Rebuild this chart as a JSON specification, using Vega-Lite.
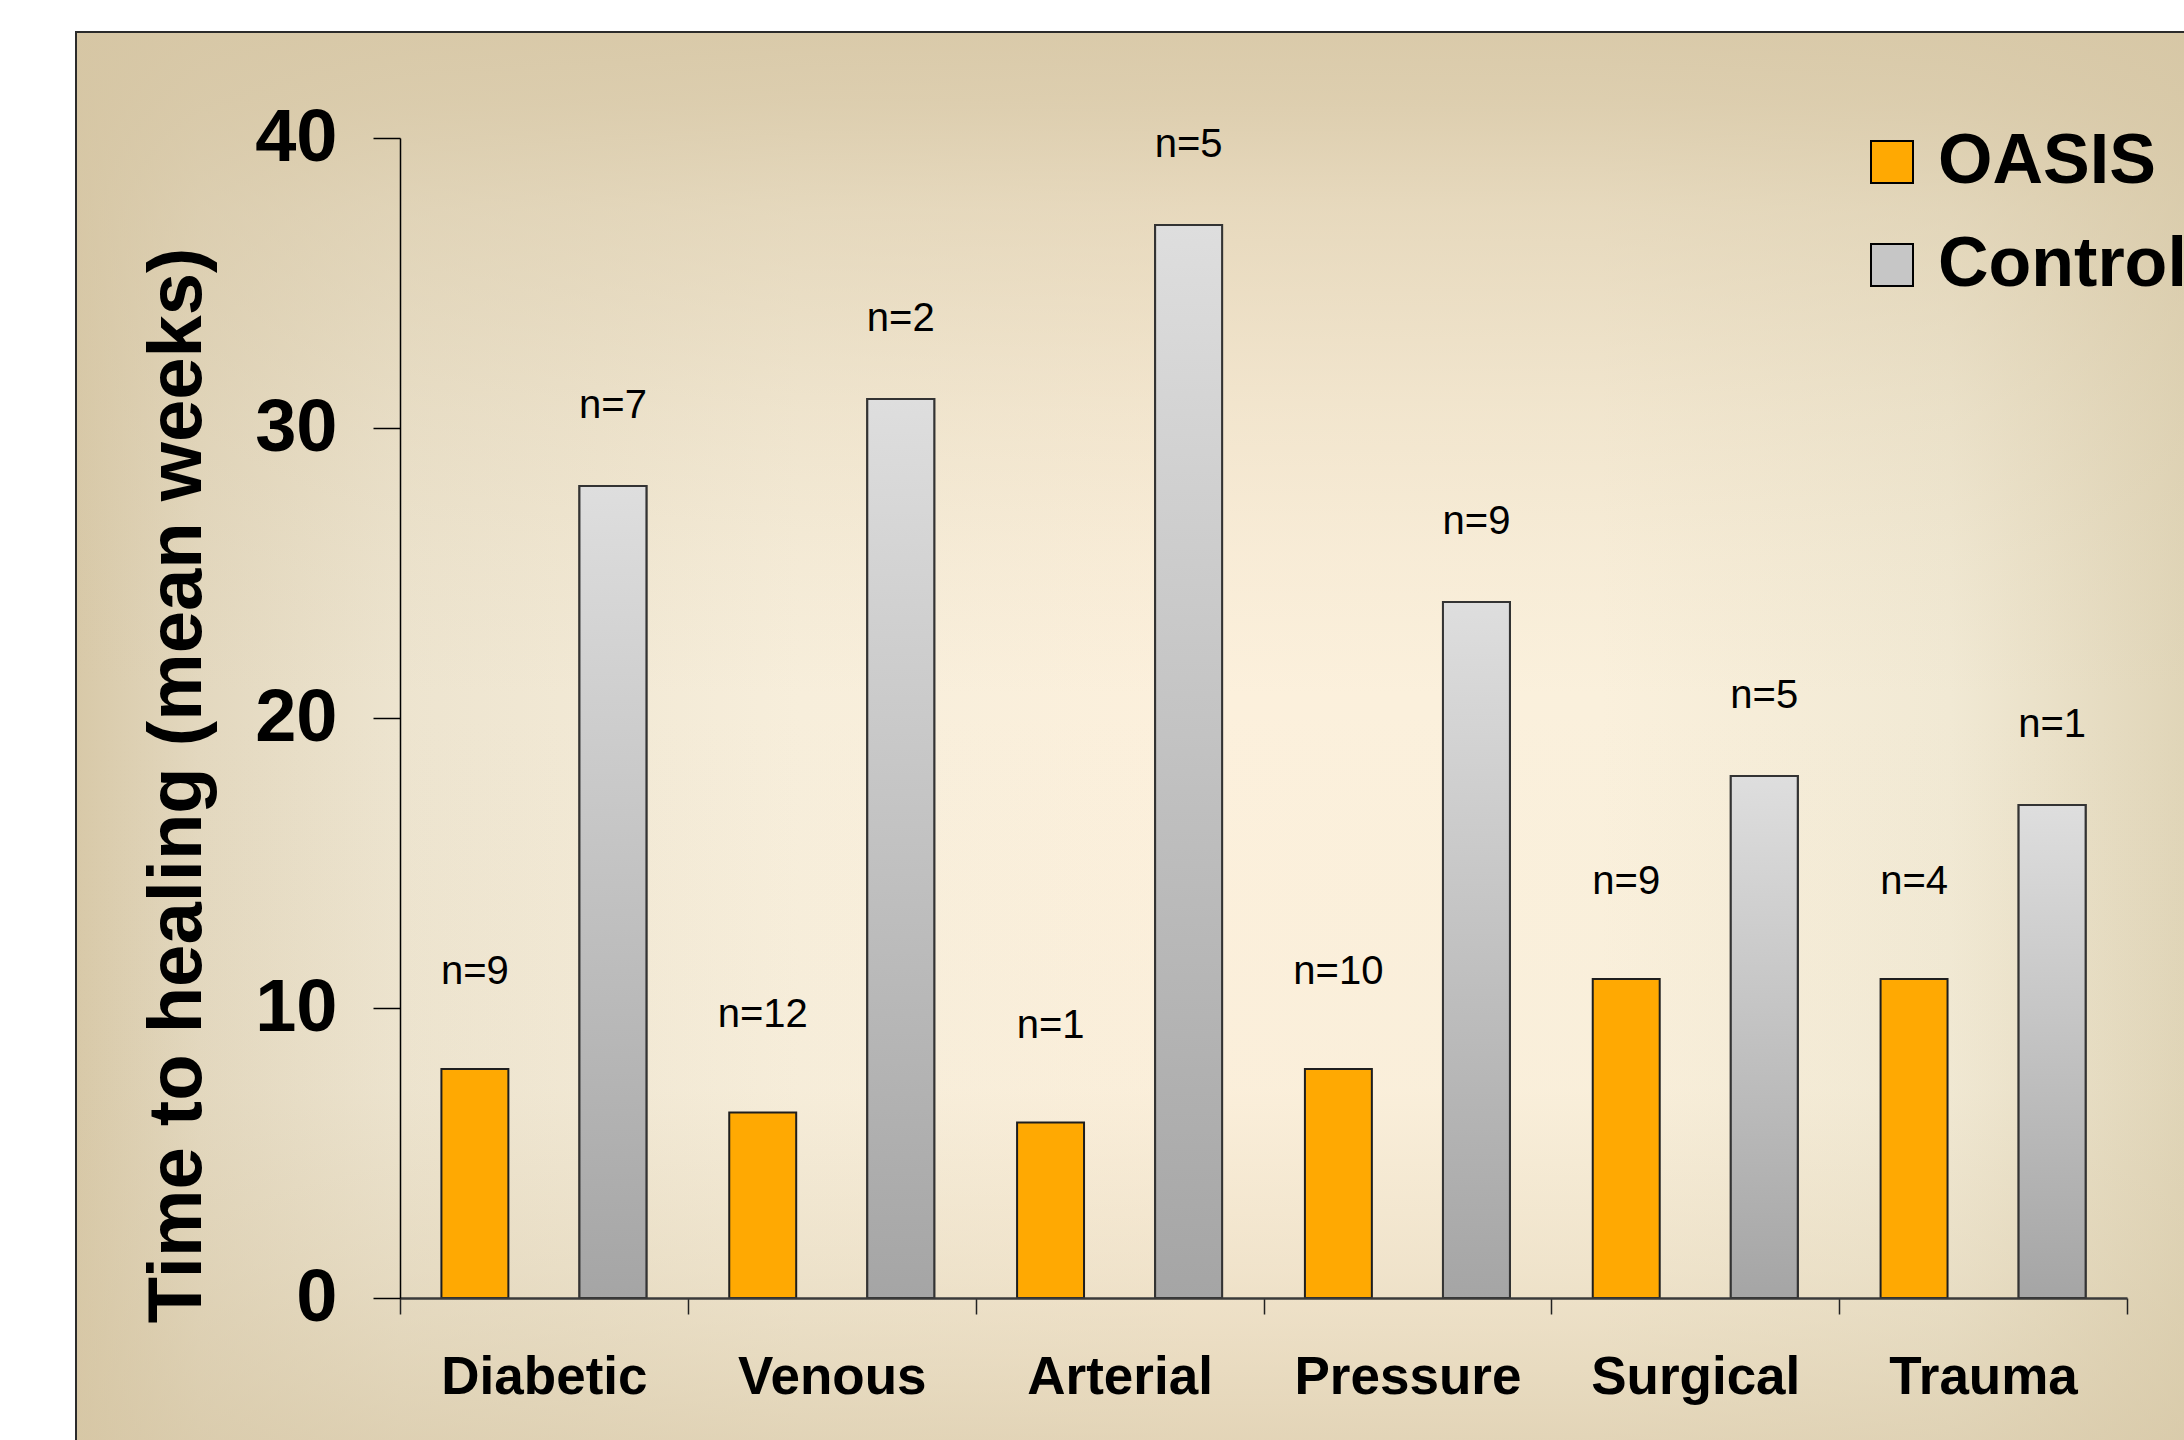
{
  "$schema": "https://vega.github.io/schema/vega-lite/v6.json",
  "autosize": {"type": "none"},
  "padding": {"left": 77, "top": 33, "right": 0, "bottom": 0},
  "width": 2107,
  "height": 1407,
  "background": "white",
  "config": {
    "font": "Liberation Sans",
    "view": {"stroke": "#2b2b2b", "strokeWidth": 4, "fill": null}
  },
  "datasets": {
    "healing": [
      {"category": "Diabetic", "group": "OASIS", "value": 7.9, "label": "n=9"},
      {"category": "Diabetic", "group": "Control", "value": 28, "label": "n=7"},
      {"category": "Venous", "group": "OASIS", "value": 6.4, "label": "n=12"},
      {"category": "Venous", "group": "Control", "value": 31, "label": "n=2"},
      {"category": "Arterial", "group": "OASIS", "value": 6.05, "label": "n=1"},
      {"category": "Arterial", "group": "Control", "value": 37, "label": "n=5"},
      {"category": "Pressure", "group": "OASIS", "value": 7.9, "label": "n=10"},
      {"category": "Pressure", "group": "Control", "value": 24, "label": "n=9"},
      {"category": "Surgical", "group": "OASIS", "value": 11, "label": "n=9"},
      {"category": "Surgical", "group": "Control", "value": 18, "label": "n=5"},
      {"category": "Trauma", "group": "OASIS", "value": 11, "label": "n=4"},
      {"category": "Trauma", "group": "Control", "value": 17, "label": "n=1"}
    ],
    "backdrop": [{}]
  },
  "layer": [
    {
      "data": {"name": "backdrop"},
      "mark": {
        "type": "rect",
        "color": {
          "gradient": "linear", "x1": 0, "y1": 0, "x2": 1, "y2": 0,
          "stops": [
            {"offset": 0, "color": "#d8c9a8"},
            {"offset": 0.058, "color": "#e3d8bf"},
            {"offset": 0.153, "color": "#ede4cf"},
            {"offset": 0.343, "color": "#f7eedb"},
            {"offset": 0.533, "color": "#fcf0dc"},
            {"offset": 0.723, "color": "#faf0dc"},
            {"offset": 0.889, "color": "#f1e9d4"},
            {"offset": 1, "color": "#e0d5b8"}
          ]
        }
      },
      "encoding": {}
    },
    {
      "data": {"name": "backdrop"},
      "mark": {
        "type": "rect",
        "color": {
          "gradient": "linear", "x1": 0, "y1": 0, "x2": 0, "y2": 1,
          "stops": [
            {"offset": 0, "color": "rgba(214,198,164,0.9)"},
            {"offset": 0.05, "color": "rgba(214,198,164,0.8)"},
            {"offset": 0.125, "color": "rgba(214,198,164,0.55)"},
            {"offset": 0.27, "color": "rgba(214,198,164,0.25)"},
            {"offset": 0.37, "color": "rgba(214,198,164,0.1)"},
            {"offset": 0.47, "color": "rgba(214,198,164,0)"},
            {"offset": 0.75, "color": "rgba(214,198,164,0.03)"},
            {"offset": 0.88, "color": "rgba(214,198,164,0.3)"},
            {"offset": 0.95, "color": "rgba(214,198,164,0.5)"},
            {"offset": 1, "color": "rgba(214,198,164,0.65)"}
          ]
        }
      },
      "encoding": {}
    },
    {
      "data": {"name": "healing"},
      "encoding": {
        "x": {
          "field": "category", "type": "nominal",
          "scale": {"domain": ["Diabetic", "Venous", "Arterial", "Pressure", "Surgical", "Trauma"], "range": [323, 2050], "paddingInner": 0, "paddingOuter": 0},
          "axis": {
            "title": null, "orient": "bottom", "offset": -142,
            "domain": true, "domainColor": "#3a3a3a", "domainWidth": 2.5,
            "ticks": true, "tickBand": "extent", "tickSize": 16, "tickColor": "#222222", "tickWidth": 1.5,
            "labelFont": "Liberation Sans", "labelFontWeight": "bold", "labelFontSize": 53, "labelColor": "black",
            "labelPadding": 37, "labelAngle": 0, "labelLimit": 0, "grid": false, "zindex": 1
          }
        },
        "xOffset": {
          "field": "group", "type": "nominal",
          "scale": {"domain": ["OASIS", "Control"], "paddingInner": 0.515, "paddingOuter": 0.3}
        },
        "y": {
          "field": "value", "type": "quantitative",
          "scale": {"domain": [0, 40], "range": [1265, 105], "nice": false, "zero": false},
          "axis": {
            "title": "Time to healing (mean weeks)", "values": [0, 10, 20, 30, 40], "offset": -323,
            "domain": true, "domainColor": "black", "domainWidth": 1.5,
            "tickSize": 27, "tickColor": "black", "tickWidth": 1.5,
            "labelFont": "Liberation Sans", "labelFontSize": 74, "labelFontWeight": "bold", "labelColor": "black", "labelPadding": 36,
            "titleFont": "Liberation Sans", "titleFontSize": 76, "titleFontWeight": "bold", "titleColor": "black",
            "titleX": -200, "titleY": 752, "titleAngle": 270, "titleAlign": "center", "titleBaseline": "alphabetic",
            "grid": false, "zindex": 1
          }
        }
      },
      "layer": [
        {
          "mark": {"type": "bar", "stroke": "#1e1e1e", "strokeWidth": 2},
          "encoding": {
            "color": {
              "field": "group", "type": "nominal",
              "scale": {"domain": ["OASIS", "Control"], "range": ["#FFA902", "#c6c6c6"]},
              "legend": {
                "title": null, "orient": "none", "legendX": 1780, "legendY": 94, "direction": "vertical",
                "symbolType": "square", "symbolSize": 1764, "symbolStrokeColor": "black", "symbolStrokeWidth": 2, "symbolOpacity": 1,
                "labelFont": "Liberation Sans", "labelFontSize": 70, "labelFontWeight": "bold", "labelColor": "black",
                "labelLimit": 0, "labelOffset": 11, "rowPadding": 33, "padding": 0, "zindex": 1
              }
            }
          }
        },
        {
          "transform": [{"filter": "datum.group === 'Control'"}],
          "mark": {
            "type": "bar", "stroke": "#333333", "strokeWidth": 2,
            "color": {
              "gradient": "linear", "x1": 0, "y1": 0, "x2": 0, "y2": 1,
              "stops": [
                {"offset": 0, "color": "#dedede"},
                {"offset": 1, "color": "#a5a5a5"}
              ]
            }
          }
        },
        {
          "transform": [{"filter": "datum.group === 'OASIS'"}],
          "mark": {"type": "text", "dy": -97, "fontSize": 40, "font": "Liberation Sans", "color": "black", "baseline": "middle", "align": "center"},
          "encoding": {"text": {"field": "label", "type": "nominal"}}
        },
        {
          "transform": [{"filter": "datum.group === 'Control'"}],
          "mark": {"type": "text", "dy": -80, "fontSize": 40, "font": "Liberation Sans", "color": "black", "baseline": "middle", "align": "center"},
          "encoding": {"text": {"field": "label", "type": "nominal"}}
        }
      ]
    }
  ]
}
